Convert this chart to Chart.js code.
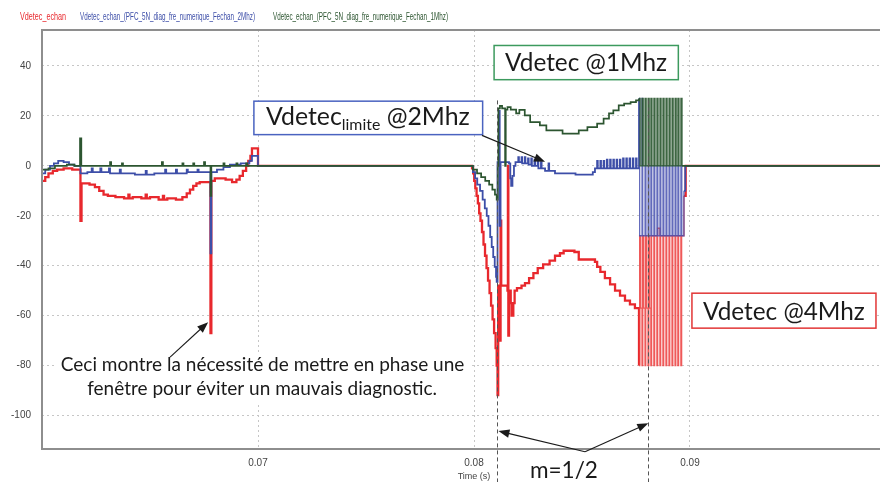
<!DOCTYPE html>
<html><head><meta charset="utf-8">
<script src="https://cdn.jsdelivr.net/npm/chart.js@4/dist/chart.umd.min.js"></script>
<style>
html,body{margin:0;padding:0;background:#fff;overflow:hidden;width:880px;height:482px}
#wrap{position:absolute;left:0;top:0;width:908px;height:482px}
</style>
</head><body><div id="wrap"><canvas id="c" width="908" height="482"></canvas></div>
<script>
// ---- legend / ticks ----
const legendLabels = ['Vdetec_echan', 'Vdetec_echan_(PFC_5N_diag_fre_numerique_Fechan_2Mhz)', 'Vdetec_echan_(PFC_5N_diag_fre_numerique_Fechan_1Mhz)'];
const xTicks = [0.07, 0.08, 0.09];
const yTicks = [-100, -80, -60, -40, -20, 0, 20, 40];
const xTitle = 'Time (s)';

// ---- series samples: [time (ms), value] ; value holds until next sample ----
const redSamples = [
[60.00,-6],[60.15,-4.5],[60.30,-3],[60.50,-2],[60.70,-1.5],[61.00,-1],[61.40,-1.5],[61.78,-22],[61.83,-7],[62.20,-7.5],[62.45,-8.5],[62.65,-10],[62.85,-11.5],[63.05,-12],[63.40,-12.5],[63.80,-13],[64.00,-11.5],[64.05,-13],[64.20,-12.5],[64.60,-13],[64.80,-11.5],[64.85,-13],[65.00,-12.5],[65.40,-13.5],[65.60,-12],[65.65,-13.5],[65.80,-13],[66.20,-13.5],[66.50,-12.5],[66.70,-11],[66.85,-9.5],[67.00,-8],[67.15,-7],[67.30,-6.5],[67.80,-67],[67.84,-6],[68.00,-5],[68.50,-5.5],[68.80,-6.5],[69.00,-5.5],[69.15,-4],[69.30,-2],[69.45,0],[69.55,2],[69.65,4],[69.72,7],[70.00,0],
[79.91,-1],[79.96,-3],[80.01,-6],[80.06,-9],[80.12,-12],[80.18,-15],[80.24,-19],[80.30,-22],[80.37,-26.5],[80.44,-31.5],[80.51,-36],[80.58,-41],[80.65,-46],[80.72,-51],[80.79,-56],[80.86,-61.5],[80.93,-67],[81.00,-73],[81.05,-80],[81.09,-91.8],[81.12,-48],[81.20,-70],[81.23,-22],[81.26,-48],[81.55,-50],[81.57,0],[81.59,-68],[81.62,-50],[81.70,-55],[81.74,-60],[81.82,-55],[81.88,-50],[81.99,-49],[82.20,-48],[82.36,-47],[82.55,-45],[82.75,-43],[82.95,-41],[83.20,-39.5],[83.50,-38],[83.75,-36],[83.98,-35],[84.15,-34],[84.65,-34.5],[84.85,-37.5],[85.60,-38.5],[85.70,-40.5],[85.85,-42.5],[86.06,-45],[86.30,-47.5],[86.53,-50],[86.76,-52],[86.99,-54],[87.22,-55.5],[87.45,-57],
[87.64,-80],[87.67,-28],[87.72,-57],[87.78,-80],[87.81,-28],[87.86,-57],[87.92,-80],[87.95,-28],[88.00,-57],[88.06,-80],[88.09,-28],[88.14,-57],[88.19,-80],[88.22,-28],[88.33,-80],[88.36,-28],[88.47,-80],[88.50,-25],[88.61,-80],[88.64,-28],[88.75,-80],[88.78,-28],[88.89,-80],[88.92,-28],[89.03,-80],[89.06,-28],[89.17,-80],[89.20,-28],[89.31,-80],[89.34,-28],[89.44,-80],[89.47,-28],[89.58,-80],[89.61,-28],[89.72,-12],[89.80,0],[100.00,0]
];
const blueSamples = [
[60.00,-3],[60.15,-1.5],[60.37,0],[60.55,1],[60.75,2],[61.00,1.5],[61.25,0.5],[61.50,0],[61.78,-3],[62.10,-2.5],[62.30,-1],[62.35,-2.5],[62.70,-1],[62.75,-2.5],[63.10,-1],[63.15,-3],[63.60,-1.5],[63.65,-3],[64.30,-3.5],[64.80,-2],[64.85,-3.5],[65.20,-3],[65.70,-1.5],[65.75,-3],[66.20,-1.5],[66.25,-3],[66.70,-1.5],[66.75,-2.5],[67.20,-1.5],[67.25,-2.5],[67.80,-35],[67.84,-2.5],[68.10,-1.5],[68.40,-0.5],[68.70,0.5],[69.20,1],[69.60,2],[69.72,4],[70.00,0],
[79.95,-2.5],[80.05,-5],[80.15,-7.5],[80.28,-10],[80.40,-13.5],[80.50,-17],[80.59,-20],[80.67,-24],[80.75,-28.5],[80.82,-32.5],[80.89,-36.5],[80.96,-40.5],[81.02,-44.5],[81.05,-46.5],[81.09,1.5],[81.16,22],[81.19,-24],[81.23,1.5],[81.62,1],[81.68,-5],[81.72,-8],[81.78,-4],[81.85,0],[81.92,1.5],
[82.05,3.5],[82.08,1.5],[82.20,3.5],[82.23,1],[82.35,3.5],[82.38,1],[82.50,3],[82.53,0.5],[82.65,3],[82.68,0],[82.80,2.5],[82.83,0],[82.95,2],[82.98,-1],[83.10,1.5],[83.13,-1],[83.29,-2],[83.45,1],[83.48,-2],[83.75,-3],[84.70,-3.5],[85.50,-2.5],[85.60,-1],
[85.70,2],[85.73,-1],[85.85,2],[85.88,-1],[86.00,2],[86.03,-1],[86.15,2.5],[86.18,-1],[86.30,2.5],[86.33,-1],[86.45,2.5],[86.48,-1],[86.60,2.5],[86.63,-1],[86.75,2.5],[86.78,-1],[86.90,3],[86.93,-1],[87.05,3],[87.08,-1],[87.20,3],[87.23,-1],[87.35,3],[87.38,-1],[87.50,3],[87.53,-1],
[87.64,27],[87.67,-28],[87.78,27],[87.81,-28],[87.92,0],[87.96,-28],[88.06,0],[88.10,-28],[88.19,0],[88.23,-28],[88.33,0],[88.37,-28],[88.47,0],[88.51,-28],[88.61,0],[88.65,-28],[88.75,0],[88.79,-28],[88.89,0],[88.93,-28],[89.03,0],[89.07,-28],[89.17,0],[89.21,-28],[89.31,0],[89.35,-28],[89.44,0],[89.48,-28],[89.58,0],[89.62,-28],[89.72,-10],[89.78,0],[100.00,0]
];
const greenSamples = [
[60.00,-1.5],[60.30,-1],[60.60,0],[61.15,0.5],[61.50,0],[61.76,11],[61.82,0],[63.15,1.5],[63.20,0],[63.70,1],[63.75,0],[65.55,1.5],[65.60,0],[66.50,1],[66.55,0],[67.00,1],[67.05,0],[67.50,1.5],[67.55,0],[67.80,-12],[67.84,0],[68.40,1],[68.45,0],[69.00,1],[69.05,0],[69.45,1],[69.50,0],
[79.95,-1.5],[80.14,-3],[80.33,-4.5],[80.52,-6],[80.70,-7.5],[80.85,-9.5],[80.97,-11.5],[81.05,-13.5],[81.10,0],[81.13,23],[81.20,24],[81.30,23],[81.44,0],[81.47,22.5],[81.55,23.5],[81.70,22.5],[81.95,21],[82.10,22.4],[82.35,20.2],[82.60,17.5],[83.05,16.2],[83.35,14.2],[84.10,12.9],[84.85,14.2],[85.25,15.5],[85.70,16.9],[86.00,18.9],[86.25,21],[86.45,22.2],[86.70,24.2],[86.95,24.9],[87.25,25.5],[87.50,26.2],
[87.64,27],[87.69,0],[87.78,27],[87.83,0],[87.92,27],[87.97,0],[88.06,27],[88.11,0],[88.19,27],[88.24,0],[88.33,27],[88.38,0],[88.47,27],[88.52,0],[88.61,27],[88.66,0],[88.75,27],[88.80,0],[88.89,27],[88.94,0],[89.03,27],[89.08,0],[89.17,27],[89.22,0],[89.31,27],[89.36,0],[89.44,27],[89.49,0],[89.58,27],[89.63,0],[100.00,0]
];

// ---- annotations (in data units: ms, value) ----
const markerTimes = [81.08, 88.04];
const markerTop = 26.2;
const chatterRange = [87.60, 89.75];
const labelBoxes = [
  {x0:80.93, x1:89.46, y0:48.2, y1:34.5, stroke:'#3c9a5e', parts:[['Vdetec',1,0],[' @1Mhz',1,0]], tx:81.44, ty:37.8, tw:7.50},
  {x0:69.81, x1:80.40, y0:25.9, y1:12.5, stroke:'#4a63c0', parts:[['Vdetec',1,0],['limite',0.64,0.2],[' @2Mhz',1,0]], tx:70.37, ty:16.2, tw:9.44},
  {x0:90.09, x1:98.61, y0:-51.0, y1:-65.0, stroke:'#e23636', parts:[['Vdetec',1,0],[' @4Mhz',1,0]], tx:90.60, ty:-61.6, tw:7.50}
];
const noteBox = {x0:60.60, x1:79.91, y0:-74.6, y1:-94.6};
const noteLines = [
  {text:'Ceci montre la nécessité de mettre en phase une', cx:70.21, ty:-82.2, tw:18.7},
  {text:'fenêtre pour éviter un mauvais diagnostic.', cx:70.19, ty:-91.8, tw:16.2}
];
const arrows = [
  [[65.93,-76.6],[67.69,-62.6]],
  [[80.37,12.2],[83.29,1.6]],
  [[85.14,-114.5],[81.13,-106.2]],
  [[85.14,-114.5],[88.07,-103.1]]
];
const periodLabel = {text:'m=1/2', tx:82.59, ty:-124.9, tw:3.15};

const RED = '#e8282d', BLUE = '#3d4ea8', GREEN = '#2c5530';
const RED_L = 'rgba(236,60,60,0.85)', BLUE_L = 'rgba(70,80,175,0.85)', GREEN_L = 'rgba(40,85,45,0.9)';
const TICKFONT = '"Liberation Sans Narrow","Arial Narrow","Liberation Sans",sans-serif';
const LEGFONT = '"Liberation Sans",Arial,sans-serif';
const NOTEFONT = 'Lato,"Noto Sans",sans-serif';

const toXY = arr => arr.map(p => ({x: p[0] / 1000, y: p[1]}));
const inChatter = c => c.p0.parsed.x >= chatterRange[0] / 1000 && c.p1.parsed.x <= chatterRange[1] / 1000;

function fitSize(ctx, text, family, target) {
  ctx.font = '100px ' + family;
  return 100 * target / ctx.measureText(text).width;
}

function drawArrow(ctx, x0, y0, x1, y1) {
  const a = Math.atan2(y1 - y0, x1 - x0), L = 11, W = 4.2;
  ctx.beginPath(); ctx.moveTo(x0, y0); ctx.lineTo(x1 - (L - 2) * Math.cos(a), y1 - (L - 2) * Math.sin(a)); ctx.stroke();
  ctx.beginPath(); ctx.moveTo(x1, y1);
  ctx.lineTo(x1 - L * Math.cos(a) + W * Math.sin(a), y1 - L * Math.sin(a) - W * Math.cos(a));
  ctx.lineTo(x1 - L * Math.cos(a) - W * Math.sin(a), y1 - L * Math.sin(a) + W * Math.cos(a));
  ctx.closePath(); ctx.fill();
}

const framePlugin = {
  id: 'frame',
  afterDatasetsDraw(chart) {
    const {ctx, chartArea: a} = chart;
    ctx.save();
    ctx.strokeStyle = '#8e8e8e'; ctx.lineWidth = 2;
    ctx.beginPath();
    ctx.moveTo(a.right + 5, a.top); ctx.lineTo(a.left, a.top); ctx.lineTo(a.left, a.bottom); ctx.lineTo(a.right + 5, a.bottom);
    ctx.stroke();
    ctx.restore();
  },
  afterDraw(chart) {
    const {ctx} = chart;
    const sx = chart.scales.x, sy = chart.scales.y;
    const X = ms => sx.getPixelForValue(ms / 1000);
    const Y = v => sy.getPixelForValue(v);
    const msW = w => X(60 + w) - X(60);
    ctx.save();
    // dashed markers
    ctx.strokeStyle = '#555'; ctx.lineWidth = 1; ctx.setLineDash([4, 3]);
    markerTimes.forEach(t => {
      const x = Math.round(X(t)) + 0.5;
      ctx.beginPath(); ctx.moveTo(x, Y(markerTop)); ctx.lineTo(x, chart.height); ctx.stroke();
    });
    ctx.setLineDash([]);
    // note box
    ctx.fillStyle = '#fff';
    ctx.fillRect(X(noteBox.x0), Y(noteBox.y0), X(noteBox.x1) - X(noteBox.x0), Y(noteBox.y1) - Y(noteBox.y0));
    ctx.fillStyle = '#1a1a1a'; ctx.textBaseline = 'alphabetic'; ctx.textAlign = 'center';
    noteLines.forEach(n => {
      const s = fitSize(ctx, n.text, NOTEFONT, msW(n.tw));
      ctx.font = s.toFixed(2) + 'px ' + NOTEFONT;
      ctx.fillText(n.text, X(n.cx), Y(n.ty));
    });
    // label boxes
    ctx.textAlign = 'left';
    labelBoxes.forEach(b => {
      const x0 = X(b.x0), y0 = Y(b.y0), w = X(b.x1) - x0, h = Y(b.y1) - y0;
      ctx.fillStyle = '#fff'; ctx.fillRect(x0, y0, w, h);
      ctx.strokeStyle = b.stroke; ctx.lineWidth = 1.5; ctx.strokeRect(x0, y0, w, h);
      let w100 = 0;
      b.parts.forEach(p => { ctx.font = (100 * p[1]) + 'px ' + NOTEFONT; w100 += ctx.measureText(p[0]).width; });
      const base = 100 * msW(b.tw) / w100;
      let cx = X(b.tx);
      const by = Y(b.ty);
      ctx.fillStyle = '#1a1a1a';
      b.parts.forEach(p => {
        ctx.font = (base * p[1]).toFixed(2) + 'px ' + NOTEFONT;
        ctx.fillText(p[0], cx, by + base * p[2]);
        cx += ctx.measureText(p[0]).width;
      });
    });
    // arrows
    ctx.strokeStyle = '#1a1a1a'; ctx.fillStyle = '#1a1a1a'; ctx.lineWidth = 1.1;
    arrows.forEach(a => drawArrow(ctx, X(a[0][0]), Y(a[0][1]), X(a[1][0]), Y(a[1][1])));
    // period label
    const ps = fitSize(ctx, periodLabel.text, NOTEFONT, msW(periodLabel.tw));
    ctx.font = ps.toFixed(2) + 'px ' + NOTEFONT;
    ctx.fillText(periodLabel.text, X(periodLabel.tx), Y(periodLabel.ty));
    // legend (series names as coloured, condensed text)
    const legendX = [20, 80, 273], legendW = [46, 175, 175], colors = [RED, BLUE, GREEN];
    legendLabels.forEach((t, i) => {
      ctx.font = '11px ' + LEGFONT;
      const k = legendW[i] / ctx.measureText(t).width;
      ctx.save();
      ctx.translate(legendX[i], 20);
      ctx.scale(k, 1);
      ctx.fillStyle = colors[i];
      ctx.fillText(t, 0, 0);
      ctx.restore();
    });
    ctx.restore();
  }
};

new Chart(document.getElementById('c'), {
  type: 'line',
  data: {
    datasets: [
      {label: legendLabels[0], data: toXY(redSamples), borderColor: RED, borderWidth: 2.3, order: 3,
       segment: {borderWidth: c => inChatter(c) ? 1.4 : undefined, borderColor: c => inChatter(c) ? RED_L : undefined}},
      {label: legendLabels[1], data: toXY(blueSamples), borderColor: BLUE, borderWidth: 1.8, order: 2,
       segment: {borderWidth: c => inChatter(c) ? 1.3 : undefined, borderColor: c => inChatter(c) ? BLUE_L : undefined}},
      {label: legendLabels[2], data: toXY(greenSamples), borderColor: GREEN, borderWidth: 1.7, order: 1,
       segment: {borderWidth: c => inChatter(c) ? 1.3 : undefined, borderColor: c => inChatter(c) ? GREEN_L : undefined}}
    ]
  },
  options: {
    responsive: false,
    animation: false,
    devicePixelRatio: 1,
    parsing: false,
    elements: {point: {radius: 0, hoverRadius: 0}, line: {stepped: true, tension: 0, fill: false}},
    layout: {padding: {top: 30, left: 0, right: 2, bottom: 0}},
    plugins: {legend: {display: false}, tooltip: {enabled: false}},
    scales: {
      x: {
        type: 'linear', min: 0.06, max: 0.1,
        afterBuildTicks: s => { s.ticks = xTicks.map(v => ({value: v})); },
        afterFit: s => { s.height = 33; },
        grid: {color: '#c6c6c6', lineWidth: 1, drawTicks: false},
        border: {display: false, dash: [2, 3]},
        ticks: {padding: 8, color: '#444', autoSkip: false, maxRotation: 0,
                font: {family: TICKFONT, size: 10}, callback: v => Number(v).toFixed(2)},
        title: {display: true, text: xTitle, color: '#444', font: {family: TICKFONT, size: 9}, padding: {top: 0, bottom: 0}}
      },
      y: {
        type: 'linear', min: -113.4, max: 54.4,
        afterBuildTicks: s => { s.ticks = yTicks.map(v => ({value: v})); },
        afterFit: s => { s.width = 42; },
        grid: {color: '#c6c6c6', lineWidth: 1, drawTicks: false},
        border: {display: false, dash: [2, 3]},
        ticks: {padding: 11, color: '#444', autoSkip: false, font: {family: TICKFONT, size: 10}, callback: v => String(v)}
      }
    }
  },
  plugins: [framePlugin]
});
</script>
</body></html>
